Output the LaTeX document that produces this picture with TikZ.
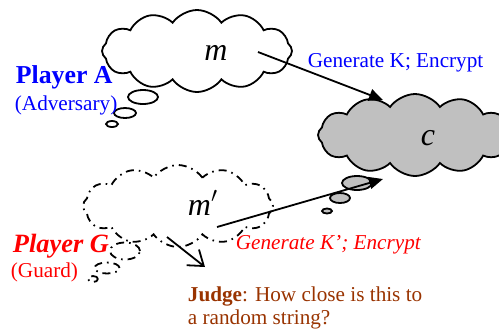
\documentclass[tikz,border=0pt]{standalone}
\usepackage{fontspec}
\setmainfont{Liberation Serif}
\usetikzlibrary{positioning, shapes.symbols, shapes.geometric, arrows.meta}
\definecolor{advblue}{RGB}{0,0,255}
\definecolor{guardred}{RGB}{255,0,0}
\definecolor{judgebrown}{RGB}{153,51,0}
\definecolor{cgray}{RGB}{192,192,192}

\begin{document}
\begin{tikzpicture}[x=0.5pt, y=-0.5pt, line width=0.9pt,
  thought/.style = {draw, cloud, cloud puffs=12, cloud puff arc=110, cloud ignores aspect, minimum width=95pt, minimum height=41pt, inner sep=0pt},
  bubble/.style = {draw, ellipse, inner sep=0pt},
  guess/.style = {dash pattern=on 4pt off 2.5pt on 0.8pt off 2.5pt},
  txt/.style = {inner sep=0pt, font=\fontsize{10.6}{11.5}\selectfont},
  big/.style = {inner sep=0pt, font=\fontsize{16}{16}\selectfont\itshape}]
\useasboundingbox (0,0) rectangle (499,329);

% clouds
\node[thought] (m) at (197,51) {};
\node[thought, fill=cgray, minimum width=97pt] (c) at (415,135) {};
\node[thought, guess] (mp) at (178,206) {};

% bubbles
\node[bubble, minimum width=15pt, minimum height=7pt] (m1) at (143,97) {};
\node[bubble, minimum width=11pt, minimum height=5pt] (m2) at (125,113) {};
\node[bubble, minimum width=6pt, minimum height=3pt] (m3) at (112,124) {};
\node[bubble, fill=cgray, minimum width=15pt, minimum height=7pt] (c1) at (357,183) {};
\node[bubble, fill=cgray, minimum width=10pt, minimum height=5pt] (c2) at (340,198) {};
\node[bubble, fill=cgray, minimum width=5pt, minimum height=2.5pt] (c3) at (327,211) {};
\node[bubble, guess, minimum width=15pt, minimum height=8.5pt] (p1) at (125,251) {};
\node[bubble, guess, minimum width=12.5pt, minimum height=5.5pt] (p2) at (107,268) {};
\node[bubble, guess, minimum width=5pt, minimum height=3pt] (p3) at (93,279) {};

% messages
\node[big] (mtxt) at (216,53) {m};
\node[big, anchor=base west] (ctxt) at (420,145) {c};
\node[big, anchor=base west] (mptxt) at (187,215) {m$'$};

% players
\node[txt, anchor=base west, font=\fontsize{12.9}{13}\selectfont\bfseries, text=advblue] (pa) at (15,83) {Player A};
\node[txt, anchor=base west, text=advblue] (adv) at (14,110) {(Adversary)};
\node[txt, anchor=base west, font=\fontsize{13.2}{13}\selectfont\bfseries\itshape, text=guardred] (pg) at (12,252) {Player G};
\node[txt, anchor=base west, text=guardred] (grd) at (10,277) {(Guard)};

% actions
\node[txt, anchor=base west, text=advblue] (enc) at (307,67) {Generate K; Encrypt};
\node[txt, anchor=base west, text=guardred, font=\fontsize{10.6}{11.5}\selectfont\itshape] (encp) at (235,249) {Generate K’; Encrypt};
\node[txt, anchor=north west, text=judgebrown, align=left] (judge) at (187,286) {\textbf{Judge}: How close is this to\\a random string?};

% arrows
\coordinate (s1) at (258,52);
\coordinate (t1) at (383,100);
\coordinate (s2) at (217,227);
\coordinate (t2) at (383,179);
\coordinate (s3) at (167,237);
\coordinate (t3) at (205,267);
\draw[-{Triangle[length=7pt,width=6pt]}] (s1) -- (t1);
\draw[-{Triangle[length=7pt,width=6pt]}] (s2) -- (t2);
\draw[-{Straight Barb[length=7pt,width=10pt]}] (s3) -- (t3);
\end{tikzpicture}
\end{document}
